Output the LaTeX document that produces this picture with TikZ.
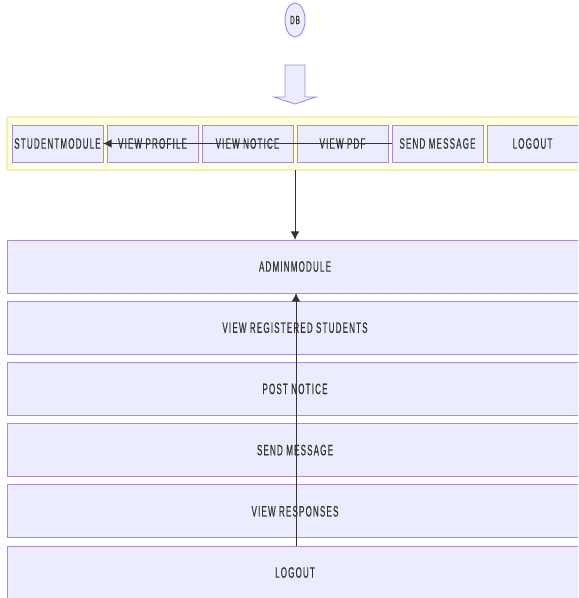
\documentclass[tikz,border=0pt]{standalone}
\usepackage{fontspec}
\setmainfont{Liberation Sans}[FakeStretch=0.53,LetterSpace=8,FakeBold=0.4]
\usetikzlibrary{shapes.geometric,arrows.meta}
\definecolor{boxfill}{HTML}{ECECFF}
\definecolor{boxline}{HTML}{A68BE0}
\definecolor{grpfill}{HTML}{FFFFDE}
\definecolor{grpline}{HTML}{F0F0C4}
\definecolor{edgecol}{HTML}{333333}
\tikzset{blk/.style={rectangle, draw=boxline, fill=boxfill, line width=0.7pt,
        text=edgecol, font=\fontsize{11.3}{13}\selectfont},
    stubox/.style={blk, minimum width=68.25pt, minimum height=27.75pt},
    admbox/.style={blk, minimum width=432pt, minimum height=39.75pt},
    grp/.style={rectangle, draw=grpline, fill=grpfill, line width=0.8pt,
        minimum width=433.5pt, minimum height=39.75pt},
    link/.style={draw=edgecol, line width=0.75pt, -{Latex[length=6.5pt,width=6.5pt]}}
}

\begin{document}
\begin{tikzpicture}[x=0.75pt, y=-0.75pt, every node/.style={inner sep=0, outer sep=0}]
\useasboundingbox (0,0) rectangle (578,598);
\clip (0,0) rectangle (578,598);
% DB
\node[ellipse, draw=boxline, fill=boxfill, line width=0.7pt, minimum width=15pt,
      minimum height=25.5pt, text=edgecol, font=\fontsize{9}{10}\selectfont] (db) at (295,20) {DB};
% Block arrow
\draw[draw=boxline, fill=boxfill, line width=0.7pt] (285,65) -- (305,65) -- (305,97) -- (316,97)
    -- (295,104) -- (274,97) -- (285,97) -- cycle;
%% Student module
\node[grp] (stud) at (296,143.5) {};
\node[stubox] (s1) at (57.5,143.5) {STUDENTMODULE};
\node[stubox] (s2) at (152.5,143.5) {VIEW PROFILE};
\node[stubox] (s3) at (247.5,143.5) {VIEW NOTICE};
\node[stubox] (s4) at (342.5,143.5) {VIEW PDF};
\node[stubox] (s5) at (437.5,143.5) {SEND MESSAGE};
\node[stubox] (s6) at (532.5,143.5) {LOGOUT};
%% Admin module
\node[admbox] (a1) at (295,266.5) {ADMINMODULE};
\node[admbox] (a2) at (295,327.7) {VIEW REGISTERED STUDENTS};
\node[admbox] (a3) at (295,388.9) {POST NOTICE};
\node[admbox] (a4) at (295,450.1) {SEND MESSAGE};
\node[admbox] (a5) at (295,511.3) {VIEW RESPONSES};
\node[admbox] (a6) at (295,572.5) {LOGOUT};
% Links
\draw[link] (s5.west) -- (s1.east);
\draw[link] (stud.south -| a1.north) -- (a1.north);
\draw[link] ([xshift=0.75pt]a6.north) -- ([xshift=0.75pt]a1.south);
\end{tikzpicture}
\end{document}
